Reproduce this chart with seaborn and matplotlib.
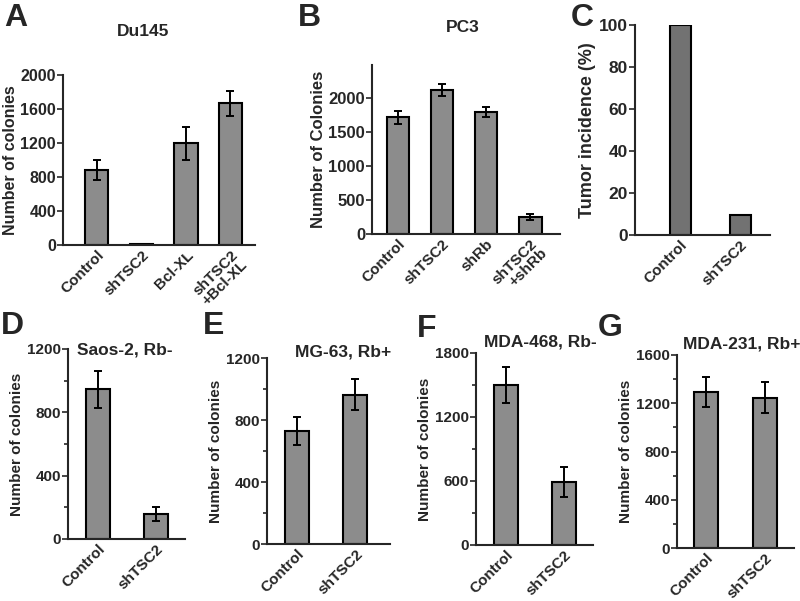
import pandas as pd
import seaborn as sns
import matplotlib.pyplot as plt
from matplotlib.ticker import MultipleLocator

# data
a_groups = ["Control", "shTSC2", "Bcl-XL", "shTSC2\n+Bcl-XL"]
a_vals = [880, 10, 1195, 1665]
a_err = [115, 0, 190, 150]

b_groups = ["Control", "shTSC2", "shRb", "shTSC2\n+shRb"]
b_vals = [1720, 2120, 1795, 250]
b_err = [95, 90, 75, 40]

c_groups = ["Control", "shTSC2"]
c_vals = [100, 9.5]

two_groups = ["Control", "shTSC2"]
d_vals = [945, 160]
d_err = [115, 45]
e_vals = [730, 963]
e_err = [90, 100]
f_vals = [1500, 593]
f_err = [170, 140]
g_vals = [1295, 1247]
g_err = [125, 130]

sns.set_style("ticks")
plt.rcParams["font.family"] = ["Liberation Sans", "DejaVu Sans"]
plt.rcParams["font.weight"] = "bold"
plt.rcParams["axes.labelweight"] = "bold"

W, H = 800, 601
fig = plt.figure(figsize=(8, 6.01), dpi=100)


def make_ax(left, right, top, bottom):
    # pixel box -> figure fraction
    return fig.add_axes([left / W, 1 - bottom / H, (right - left) / W, (bottom - top) / H])


def panel(ax, groups, vals, err, color, width, xlim, ylim, major, minor, ylabel,
          tick_fs=11, label_fs=11, xtick_fs=11):
    df = pd.DataFrame({"group": groups, "value": vals})
    sns.barplot(data=df, x="group", y="value", color=color, width=width,
                edgecolor="black", linewidth=1.5, saturation=1, ax=ax)
    if err is not None:
        ax.errorbar(range(len(vals)), vals, yerr=err, fmt="none", ecolor="black",
                    elinewidth=1.4, capsize=3, capthick=1.4)
    ax.set_xlim(*xlim)
    ax.set_ylim(*ylim)
    ax.yaxis.set_major_locator(MultipleLocator(major))
    if minor:
        ax.yaxis.set_minor_locator(MultipleLocator(minor))
    ax.set_xlabel("")
    ax.set_ylabel(ylabel, fontsize=label_fs, fontweight="bold", labelpad=2)
    ax.tick_params(axis="x", length=0, labelsize=xtick_fs, pad=2)
    ax.tick_params(axis="y", which="major", length=4, width=1.2, labelsize=tick_fs, pad=1)
    ax.tick_params(axis="y", which="minor", length=3, width=1.2)
    for lab in ax.get_xticklabels():
        lab.set_rotation(45)
        lab.set_ha("right")
        lab.set_rotation_mode("anchor")
        lab.set_fontweight("bold")
        lab.set_linespacing(0.95)
    for lab in ax.get_yticklabels():
        lab.set_fontweight("bold")
    sns.despine(ax=ax)
    for s in ["left", "bottom"]:
        ax.spines[s].set_linewidth(1.5)


gray = "#8c8c8c"

axA = make_ax(63, 255, 75, 245)
panel(axA, a_groups, a_vals, a_err, gray, 0.52, (-0.76, 3.55), (0, 2000), 400, None,
      "Number of colonies", tick_fs=11.5, label_fs=11.5)

axB = make_ax(372, 560, 65, 234)
panel(axB, b_groups, b_vals, b_err, gray, 0.52, (-0.59, 3.68), (0, 2490), 500, None,
      "Number of Colonies", tick_fs=12, label_fs=12)

axC = make_ax(635, 770, 25, 235)
panel(axC, c_groups, c_vals, None, "#727272", 0.35, (-0.75, 1.5), (0, 100), 20, None,
      "Tumor incidence (%)", tick_fs=12.5, label_fs=13)

axD = make_ax(68, 185, 349, 539)
panel(axD, two_groups, d_vals, d_err, gray, 0.41, (-0.51, 1.5), (0, 1200), 400, 200,
      "Number of colonies")

axE = make_ax(267, 390, 358, 544)
panel(axE, two_groups, e_vals, e_err, gray, 0.41, (-0.51, 1.59), (0, 1200), 400, 200,
      "Number of colonies")

axF = make_ax(476, 593, 353, 545)
panel(axF, two_groups, f_vals, f_err, gray, 0.41, (-0.52, 1.5), (0, 1800), 600, 300,
      "Number of colonies")

axG = make_ax(677, 794, 355, 548)
panel(axG, two_groups, g_vals, g_err, gray, 0.41, (-0.5, 1.5), (0, 1600), 400, 200,
      "Number of colonies")

# panel titles
titles = [("Du145", 143, 32), ("PC3", 463, 28), ("Saos-2, Rb-", 125, 350),
          ("MG-63, Rb+", 343, 352), ("MDA-468, Rb-", 540, 342), ("MDA-231, Rb+", 742, 344)]
for t, x, y in titles:
    fig.text(x / W, 1 - y / H, t, ha="center", va="center", fontsize=12.5, fontweight="bold")

# panel letters
letters = [("A", 16, 18), ("B", 309, 18), ("C", 582, 18), ("D", 12, 326),
           ("E", 214, 326), ("F", 427, 329), ("G", 610, 328)]
for t, x, y in letters:
    fig.text(x / W, 1 - y / H, t, ha="center", va="center", fontsize=23, fontweight="bold")

fig.savefig("out.png", dpi=100)
